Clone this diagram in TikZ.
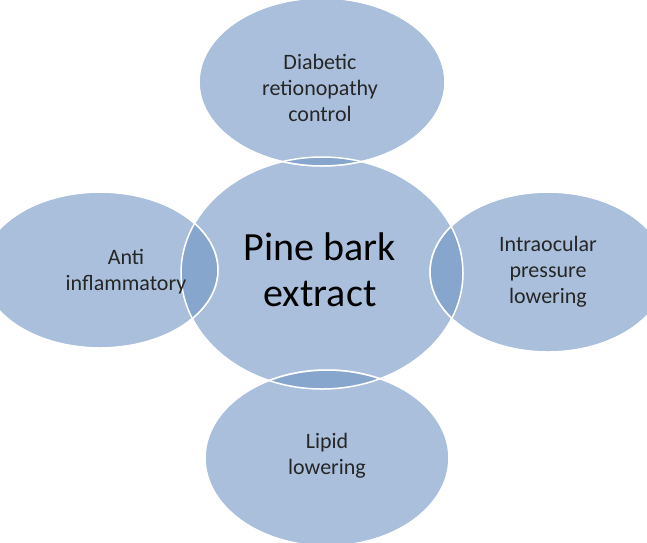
\documentclass[tikz,border=0pt]{standalone}
\usepackage{fontspec}
\setmainfont{Carlito}
\definecolor{bub}{HTML}{6F95C4}
\begin{document}
\begin{tikzpicture}[x=1pt,y=-1pt,
  bub/.style={ellipse,draw=white,line width=1.5pt,fill=bub,fill opacity=0.6,text opacity=1,inner sep=0pt},
  lab/.style={font=\fontsize{22}{26}\selectfont,align=center,text=black!85}]
\useasboundingbox (0,0) rectangle (647,542);
\usetikzlibrary{shapes.geometric}
\fill[bub,opacity=0.6,draw=white,line width=1.5pt] (322,273) ellipse [x radius=141,y radius=116];
\fill[bub,opacity=0.6] (322,82) ellipse [x radius=123,y radius=84];
\fill[bub,opacity=0.6] (100,270) ellipse [x radius=118,y radius=78];
\fill[bub,opacity=0.6] (548,272) ellipse [x radius=118,y radius=80];
\fill[bub,opacity=0.6] (327,458) ellipse [x radius=122,y radius=88];
\foreach \c/\rx/\ry in {322/273/141/116,322/82/123/84,100/270/118/78,548/272/118/80,327/458/122/88}{}
\draw[white,line width=1.5pt] (322,273) ellipse [x radius=141,y radius=116];
\draw[white,line width=1.5pt] (322,82) ellipse [x radius=123,y radius=84];
\draw[white,line width=1.5pt] (100,270) ellipse [x radius=118,y radius=78];
\draw[white,line width=1.5pt] (548,272) ellipse [x radius=118,y radius=80];
\draw[white,line width=1.5pt] (327,458) ellipse [x radius=122,y radius=88];
\node[font=\fontsize{40}{46}\selectfont,align=center] (c) at (320,270) {Pine bark\\extract};
\node[lab] (t) at (320,88) {Diabetic\\retionopathy\\control};
\node[lab] (l) at (126,272) {Anti\\inflammatory};
\node[lab] (r) at (548,272) {Intraocular\\pressure\\lowering};
\node[lab] (b) at (327,456) {Lipid\\lowering};
\end{tikzpicture}
\end{document}
